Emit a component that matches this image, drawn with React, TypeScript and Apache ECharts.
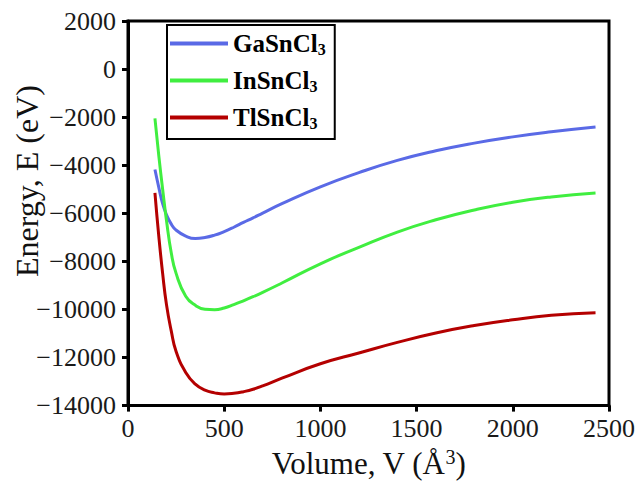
import React, { useEffect, useRef } from "react";
import * as echarts from "echarts";

// Unit-cell volume (Å^3) at which the total energies were sampled
const volume = [140, 160, 180, 200, 225, 250, 300, 350, 400, 450, 500, 550, 600, 650, 700, 800, 1000, 1200, 1400, 1600, 1800, 2000, 2200, 2430];

// Total energy (eV) for each compound
const gaSnCl3 = [-4180, -4920, -5600, -6060, -6450, -6700, -6950, -7050, -7010, -6910, -6760, -6580, -6380, -6190, -5990, -5600, -4900, -4310, -3800, -3400, -3080, -2820, -2610, -2410];
const inSnCl3 = [-2050, -3600, -5000, -6300, -7650, -8500, -9450, -9830, -9990, -10010, -9940, -9800, -9640, -9470, -9290, -8900, -8100, -7420, -6780, -6270, -5860, -5540, -5320, -5160];
const tlSnCl3 = [-5150, -6950, -8500, -9800, -10900, -11750, -12620, -13110, -13360, -13470, -13520, -13490, -13420, -13320, -13180, -12860, -12260, -11810, -11370, -10980, -10670, -10430, -10245, -10140];

const seriesNames = ["GaSnCl3", "InSnCl3", "TlSnCl3"];
const seriesColors = ["#5a6ae6", "#40ee40", "#b40000"];

const xTicks = { min: 0, max: 2500, interval: 500 };
const yTicks = { min: -14000, max: 2000, interval: 2000 };

const SERIF = "Liberation Serif, Times New Roman, serif";

const fmtNum = (v: number) => (v < 0 ? "\u2212" + Math.abs(v) : String(v));

export default function App() {
  const ref = useRef<HTMLDivElement>(null);

  useEffect(() => {
    if (!ref.current) return;
    const chart = echarts.init(ref.current, undefined, { renderer: "svg" });
    const energies = [gaSnCl3, inSnCl3, tlSnCl3];

    chart.setOption({
      animation: false,
      backgroundColor: "#ffffff",
      textStyle: { fontFamily: SERIF },
      grid: {
        left: 128,
        right: 29,
        top: 21,
        bottom: 76,
        show: true,
        borderColor: "#000",
        borderWidth: 3,
      },
      legend: {
        orient: "vertical",
        left: 167,
        top: 25,
        padding: [5, 9, 8, 3],
        itemGap: 10,
        itemWidth: 58,
        itemHeight: 4,
        icon: "rect",
        borderColor: "#000",
        borderWidth: 2,
        data: seriesNames,
        formatter: (name: string) => name.replace(/3$/, "") + "{sub|3}",
        textStyle: {
          fontFamily: SERIF,
          fontWeight: "bold",
          fontSize: 25,
          color: "#000",
          lineHeight: 27,
          rich: {
            sub: {
              fontFamily: SERIF,
              fontWeight: "bold",
              fontSize: 16,
              color: "#000",
              verticalAlign: "bottom",
              lineHeight: 27,
              padding: [10, 0, 0, 0],
            },
          },
        },
      },
      xAxis: {
        type: "value",
        min: xTicks.min,
        max: xTicks.max,
        interval: xTicks.interval,
        name: "Volume, V (Å{sup|3})",
        nameLocation: "middle",
        nameGap: 36,
        nameTextStyle: {
          fontFamily: SERIF,
          fontSize: 31,
          color: "#111",
          rich: {
            sup: {
              fontFamily: SERIF,
              fontSize: 20,
              color: "#111",
              padding: [0, 0, 14, 0],
            },
          },
        },
        axisLine: { show: true, onZero: false, lineStyle: { color: "#000", width: 3 } },
        axisTick: { show: true, inside: false, length: 6, lineStyle: { color: "#000", width: 3 } },
        axisLabel: { fontFamily: SERIF, fontSize: 26, color: "#1a1a1a", margin: 10, formatter: fmtNum },
        splitLine: { show: false },
      },
      yAxis: {
        type: "value",
        min: yTicks.min,
        max: yTicks.max,
        interval: yTicks.interval,
        axisLine: { show: true, onZero: false, lineStyle: { color: "#000", width: 3 } },
        axisTick: { show: true, inside: false, length: 6, lineStyle: { color: "#000", width: 3 } },
        axisLabel: { fontFamily: SERIF, fontSize: 26, color: "#1a1a1a", margin: 12, formatter: fmtNum },
        splitLine: { show: false },
      },
      graphic: [
        {
          type: "text",
          x: 27,
          y: 181,
          rotation: Math.PI / 2,
          style: {
            text: "Energy, E (eV)",
            fontFamily: SERIF,
            fontSize: 32,
            fill: "#111",
            textAlign: "center",
            textVerticalAlign: "middle",
          },
        },
      ],
      series: seriesNames.map((name, i) => ({
        name,
        type: "line",
        smooth: 0.5,
        symbol: "none",
        data: volume.map((v, j) => [v, energies[i][j]]),
        lineStyle: { color: seriesColors[i], width: 3 },
        itemStyle: { color: seriesColors[i] },
      })),
    });

    return () => chart.dispose();
  }, []);

  return (
    <div
      ref={ref}
      style={{ position: "fixed", left: 0, top: 0, width: 638, height: 484, background: "#fff" }}
    />
  );
}
